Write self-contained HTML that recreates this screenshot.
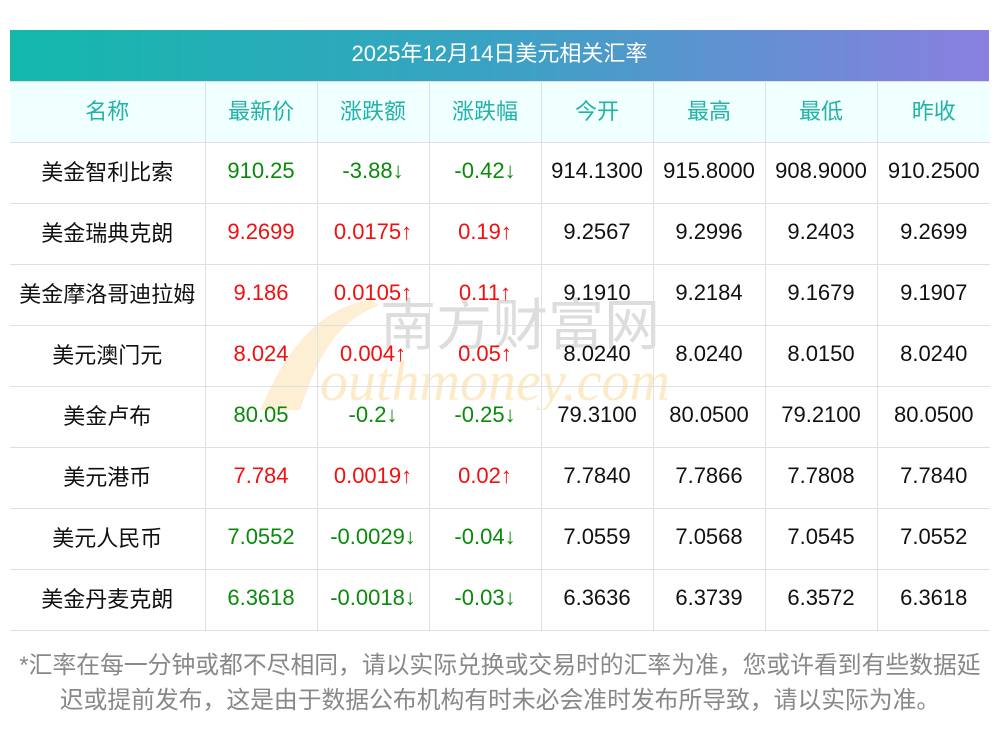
<!DOCTYPE html>
<html><head><meta charset="utf-8"><style>
body{margin:0;width:1000px;height:733px;background:#fff;font-family:"Liberation Sans","Noto Sans CJK SC",sans-serif;position:relative;overflow:hidden}
.title{position:absolute;left:10px;top:30px;width:979px;height:51px;background:linear-gradient(90deg,#13b8ab,#3aa2c4 50%,#8a7fe0);color:#fff;font-size:22px;line-height:48px;text-align:center}
table{position:absolute;left:10px;top:81px;border-collapse:collapse;width:980px;table-layout:fixed}
td{height:61px;border:1px solid #dde0e8;text-align:center;font-size:22px;color:#111;padding:0 0 5px 0;box-sizing:border-box;white-space:nowrap}
tr.h td{background:#f0ffff;color:#22b3a6}
tr td:first-child{border-left:none}
tr td:last-child{border-right:none}
.g{color:#0a8a0a}.r{color:#f01010}
.wm{position:absolute;left:260px;top:290px;pointer-events:none}
.foot{position:absolute;left:0px;top:648px;width:1000px;text-align:center;font-size:23.8px;line-height:35px;color:#888;white-space:nowrap}
</style></head><body>
<div class="title">2025年12月14日美元相关汇率</div>
<svg class="wm" width="500" height="120"><path d="M110 10 C40 20 10 100 0 120 L40 120 C60 60 80 30 120 15Z" fill="#fdebc8" opacity=".8"/><text x="120" y="55" font-size="56" fill="#ddd" font-family="Noto Sans CJK SC">南方财富网</text><text x="60" y="110" font-size="56" font-style="italic" fill="#fdebc8" font-family="Liberation Serif">outhmoney.com</text></svg>
<table>
<colgroup><col style="width:195px"><col style="width:112px"><col style="width:112px"><col style="width:112px"><col style="width:112px"><col style="width:112px"><col style="width:112px"><col style="width:113px"></colgroup>
<tr class="h"><td>名称</td><td>最新价</td><td>涨跌额</td><td>涨跌幅</td><td>今开</td><td>最高</td><td>最低</td><td>昨收</td></tr>
<tr><td>美金智利比索</td><td class="g">910.25</td><td class="g">-3.88↓</td><td class="g">-0.42↓</td><td>914.1300</td><td>915.8000</td><td>908.9000</td><td>910.2500</td></tr>
<tr><td>美金瑞典克朗</td><td class="r">9.2699</td><td class="r">0.0175↑</td><td class="r">0.19↑</td><td>9.2567</td><td>9.2996</td><td>9.2403</td><td>9.2699</td></tr>
<tr><td>美金摩洛哥迪拉姆</td><td class="r">9.186</td><td class="r">0.0105↑</td><td class="r">0.11↑</td><td>9.1910</td><td>9.2184</td><td>9.1679</td><td>9.1907</td></tr>
<tr><td>美元澳门元</td><td class="r">8.024</td><td class="r">0.004↑</td><td class="r">0.05↑</td><td>8.0240</td><td>8.0240</td><td>8.0150</td><td>8.0240</td></tr>
<tr><td>美金卢布</td><td class="g">80.05</td><td class="g">-0.2↓</td><td class="g">-0.25↓</td><td>79.3100</td><td>80.0500</td><td>79.2100</td><td>80.0500</td></tr>
<tr><td>美元港币</td><td class="r">7.784</td><td class="r">0.0019↑</td><td class="r">0.02↑</td><td>7.7840</td><td>7.7866</td><td>7.7808</td><td>7.7840</td></tr>
<tr><td>美元人民币</td><td class="g">7.0552</td><td class="g">-0.0029↓</td><td class="g">-0.04↓</td><td>7.0559</td><td>7.0568</td><td>7.0545</td><td>7.0552</td></tr>
<tr><td>美金丹麦克朗</td><td class="g">6.3618</td><td class="g">-0.0018↓</td><td class="g">-0.03↓</td><td>6.3636</td><td>6.3739</td><td>6.3572</td><td>6.3618</td></tr>
</table>
<div class="foot">*汇率在每一分钟或都不尽相同，请以实际兑换或交易时的汇率为准，您或许看到有些数据延<br>迟或提前发布，这是由于数据公布机构有时未必会准时发布所导致，请以实际为准。</div>
</body></html>
